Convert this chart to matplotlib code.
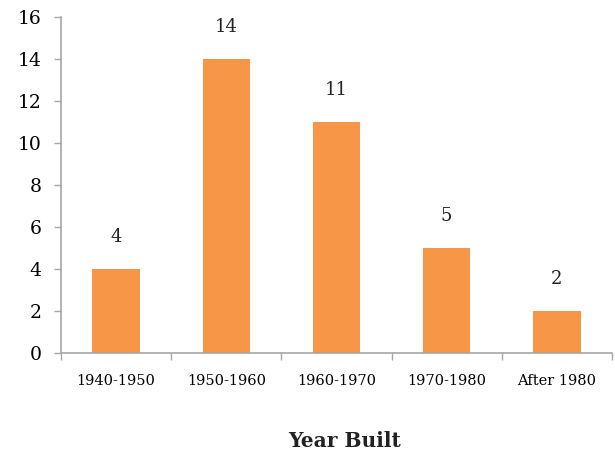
import numpy as np
import matplotlib
matplotlib.use("Agg")
import matplotlib.pyplot as plt

# datos del grafico
categorias = ["1940-1950", "1950-1960", "1960-1970", "1970-1980", "After 1980"]
valores = [4, 14, 11, 5, 2]

plt.rcParams['font.family'] = ['DejaVu Serif']

fig = plt.figure(figsize=(6.15, 4.57), dpi=100)
ax = fig.add_axes([0.0992, 0.2276, 0.8958, 0.7352])

x = np.arange(len(categorias))
barras = ax.bar(x, valores, width=0.43, color='#F79646')

# etiquetas encima de las barras
for xi, v in zip(x, valores):
    ax.annotate(str(v), (xi, v), xytext=(0, 23), textcoords='offset points',
                ha='center', va='center', fontsize=13, color='#222222')

ax.set_xlim(-0.5, len(categorias) - 0.5)
ax.set_ylim(0, 16)
ax.set_yticks(range(0, 17, 2))
ax.set_xticks(x)
ax.set_xticklabels(categorias, fontsize=10.5)
ax.set_xticks(np.arange(-0.5, len(categorias), 1), minor=True)

gris = '#A6A6A6'
for lado in ['top', 'right']:
    ax.spines[lado].set_visible(False)
for lado in ['left', 'bottom']:
    ax.spines[lado].set_color(gris)
    ax.spines[lado].set_linewidth(1.2)

ax.tick_params(axis='x', which='major', length=0, pad=15)
ax.tick_params(axis='x', which='minor', length=5, color=gris, width=1)
ax.tick_params(axis='y', length=5, color=gris, width=1, labelsize=13.5, pad=9)

fig.text(0.56, 0.035, "Year Built", ha='center', va='center',
         fontsize=14.5, fontweight='bold', color='#222222')

fig.savefig("out.png", dpi=100)
